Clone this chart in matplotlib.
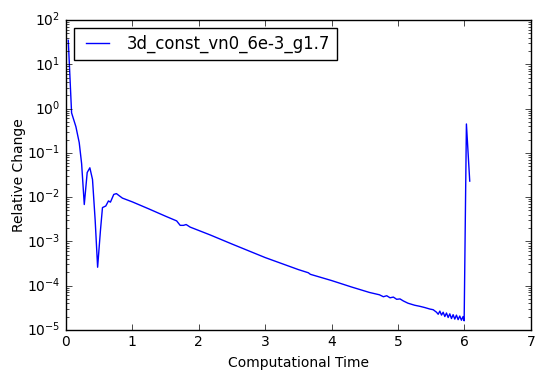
import matplotlib
matplotlib.use("Agg")
import matplotlib.pyplot as plt

plt.style.use("classic")

series_label = "3d_const_vn0_6e-3_g1.7"

time = [0.035, 0.085, 0.15, 0.20, 0.236, 0.276, 0.32, 0.36, 0.40, 0.44, 0.477,
        0.52, 0.55, 0.60, 0.64, 0.67, 0.72, 0.76, 0.80, 0.85, 1.0, 1.25, 1.5,
        1.667, 1.72, 1.77, 1.81, 1.87, 2.17, 2.5, 3.0, 3.5, 3.65, 3.68, 4.0,
        4.3, 4.57, 4.72, 4.78, 4.83, 4.88, 4.93, 4.98, 5.03, 5.08, 5.15, 5.25,
        5.33, 5.40, 5.48, 5.53, 5.58, 5.605, 5.63, 5.655, 5.68, 5.705, 5.73,
        5.755, 5.78, 5.805, 5.83, 5.855, 5.88, 5.905, 5.93, 5.955, 5.98, 5.996,
        6.03, 6.08]

change = [35, 0.8, 0.39, 0.17, 0.057, 0.0068, 0.036, 0.046, 0.025, 0.003, 0.00026,
          0.0018, 0.0058, 0.0063, 0.0082, 0.0077, 0.0115, 0.012, 0.0108, 0.0095,
          0.0078, 0.0054, 0.0037, 0.0029, 0.0023, 0.0023, 0.0024, 0.0021, 0.0014,
          8.7e-4, 4.3e-4, 2.3e-4, 1.95e-4, 1.8e-4, 1.3e-4, 9.3e-5, 7.0e-5, 6.2e-5,
          5.6e-5, 5.9e-5, 5.3e-5, 5.5e-5, 4.9e-5, 5.0e-5, 4.5e-5, 4.0e-5, 3.6e-5,
          3.4e-5, 3.2e-5, 2.95e-5, 2.85e-5, 2.5e-5, 2.25e-5, 2.65e-5, 2.15e-5,
          2.5e-5, 2.0e-5, 2.4e-5, 1.9e-5, 2.3e-5, 1.8e-5, 2.2e-5, 1.75e-5, 2.15e-5,
          1.7e-5, 2.05e-5, 1.65e-5, 2.0e-5, 1.6e-5, 0.45, 0.023]

fig = plt.figure(figsize=(5.45, 3.8), dpi=100, facecolor="white")
ax = fig.add_axes([0.121, 0.132, 0.853, 0.815])
ax.plot(time, change, color="blue", lw=1.0, label=series_label)
ax.set_yscale("log")
ax.set_xlim(0, 7)
ax.set_ylim(1e-5, 1e2)
ax.set_xlabel("Computational Time", fontsize=10)
ax.set_ylabel("Relative Change", fontsize=10, labelpad=1)
ax.tick_params(labelsize=10)
ax.legend(loc="upper left", fontsize=11.9)
fig.savefig("out.png", dpi=100, facecolor="white")
